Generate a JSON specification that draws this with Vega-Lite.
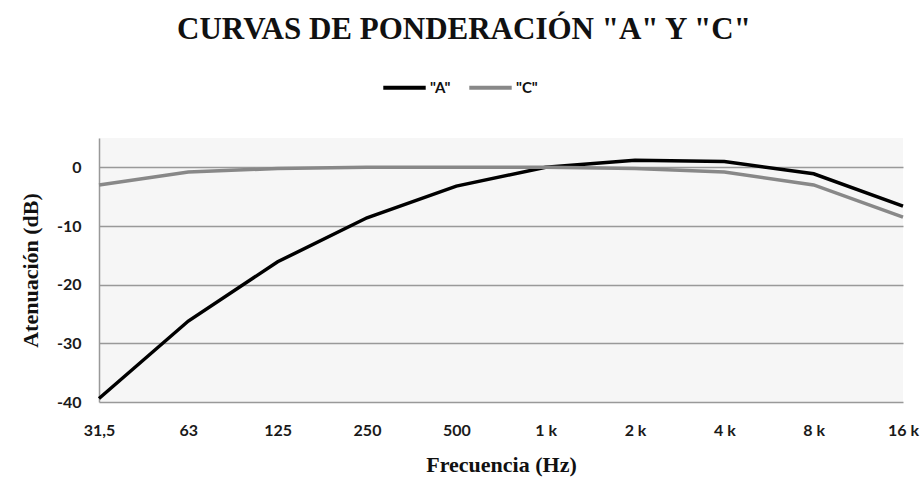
{
  "$schema": "https://vega.github.io/schema/vega-lite/v6.json",
  "width": 804,
  "height": 264,
  "autosize": {"type": "none"},
  "padding": {"left": 99, "top": 138, "right": 21, "bottom": 79},
  "background": "white",
  "title": {
    "text": "CURVAS DE PONDERACIÓN \"A\" Y \"C\"",
    "font": "Liberation Serif",
    "fontSize": 31,
    "fontWeight": "bold",
    "color": "#111",
    "anchor": "middle",
    "dx": -37,
    "offset": 18
  },
  "data": {
    "values": [
      {"f": "31,5", "s": "\"A\"", "v": -39.4},
      {"f": "63", "s": "\"A\"", "v": -26.2},
      {"f": "125", "s": "\"A\"", "v": -16.1},
      {"f": "250", "s": "\"A\"", "v": -8.6},
      {"f": "500", "s": "\"A\"", "v": -3.2},
      {"f": "1 k", "s": "\"A\"", "v": 0},
      {"f": "2 k", "s": "\"A\"", "v": 1.2},
      {"f": "4 k", "s": "\"A\"", "v": 1.0},
      {"f": "8 k", "s": "\"A\"", "v": -1.1},
      {"f": "16 k", "s": "\"A\"", "v": -6.6},
      {"f": "31,5", "s": "\"C\"", "v": -3.0},
      {"f": "63", "s": "\"C\"", "v": -0.8},
      {"f": "125", "s": "\"C\"", "v": -0.2},
      {"f": "250", "s": "\"C\"", "v": 0},
      {"f": "500", "s": "\"C\"", "v": 0},
      {"f": "1 k", "s": "\"C\"", "v": 0},
      {"f": "2 k", "s": "\"C\"", "v": -0.2},
      {"f": "4 k", "s": "\"C\"", "v": -0.8},
      {"f": "8 k", "s": "\"C\"", "v": -3.0},
      {"f": "16 k", "s": "\"C\"", "v": -8.5}
    ]
  },
  "mark": {"type": "line", "strokeWidth": 3.5},
  "encoding": {
    "x": {
      "field": "f",
      "type": "ordinal",
      "sort": null,
      "scale": {"type": "point", "padding": 0},
      "axis": {
        "title": "Frecuencia (Hz)",
        "titleFont": "Liberation Serif",
        "titleFontSize": 22,
        "titleFontWeight": "bold",
        "titleColor": "#111",
        "titlePadding": 16,
        "labelAngle": 0,
        "labelFont": "Lato",
        "labelFontSize": 16,
        "labelFontWeight": "bold",
        "labelColor": "#1a1a1a",
        "labelPadding": 20,
        "ticks": false,
        "domain": false,
        "grid": false
      }
    },
    "y": {
      "field": "v",
      "type": "quantitative",
      "scale": {"domain": [-40, 5], "nice": false},
      "axis": {
        "title": "Atenuación (dB)",
        "titleFont": "Liberation Serif",
        "titleFontSize": 22,
        "titleFontWeight": "bold",
        "titleColor": "#111",
        "titlePadding": 14,
        "values": [0, -10, -20, -30, -40],
        "labelExpr": "replace(datum.label, '−', '-')",
        "labelFont": "Lato",
        "labelFontSize": 16,
        "labelFontWeight": "bold",
        "labelColor": "#1a1a1a",
        "labelPadding": 18,
        "ticks": false,
        "domain": true,
        "domainColor": "#999",
        "domainWidth": 1.5,
        "grid": true,
        "gridColor": "#999",
        "gridWidth": 1.5
      }
    },
    "color": {
      "field": "s",
      "type": "nominal",
      "scale": {"domain": ["\"A\"", "\"C\""], "range": ["#000000", "#888888"]},
      "legend": {
        "title": null,
        "orient": "none",
        "direction": "horizontal",
        "legendX": 282,
        "legendY": -74,
        "symbolType": "stroke",
        "symbolStrokeWidth": 4,
        "symbolSize": 1800,
        "labelFont": "Lato",
        "labelFontSize": 15,
        "labelFontWeight": "bold",
        "labelColor": "#111",
        "labelOffset": 2,
        "columnPadding": 10
      }
    }
  },
  "config": {
    "view": {"fill": "#f6f6f6", "stroke": null}
  }
}
